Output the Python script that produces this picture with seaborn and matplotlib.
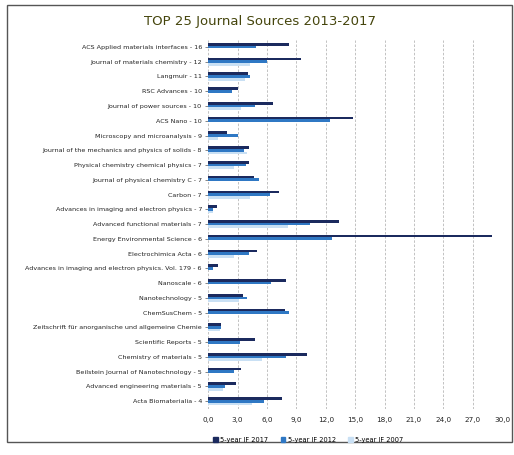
import numpy as np
import pandas as pd
import matplotlib
matplotlib.use('Agg')
import matplotlib.pyplot as plt
from matplotlib.patches import Rectangle
from matplotlib.ticker import FuncFormatter, MultipleLocator
import seaborn as sns

# 期刊及5年影响因子
journals = [
    'ACS Applied materials interfaces - 16',
    'Journal of materials chemistry - 12',
    'Langmuir - 11',
    'RSC Advances - 10',
    'Journal of power sources - 10',
    'ACS Nano - 10',
    'Microscopy and microanalysis - 9',
    'Journal of the mechanics and physics of solids - 8',
    'Physical chemistry chemical physics - 7',
    'Journal of physical chemistry C - 7',
    'Carbon - 7',
    'Advances in imaging and electron physics - 7',
    'Advanced functional materials - 7',
    'Energy Environmental Science - 6',
    'Electrochimica Acta - 6',
    'Advances in imaging and electron physics. Vol. 179 - 6',
    'Nanoscale - 6',
    'Nanotechnology - 5',
    'ChemSusChem - 5',
    'Zeitschrift für anorganische und allgemeine Chemie',
    'Scientific Reports - 5',
    'Chemistry of materials - 5',
    'Beilstein Journal of Nanotechnology - 5',
    'Advanced engineering materials - 5',
    'Acta Biomaterialia - 4',
]
if_2017 = [8.2, 9.5, 4.1, 3.0, 6.6, 14.8, 1.9, 4.2, 4.2, 4.7, 7.2, 0.9, 13.3,
           29.0, 5.0, 1.0, 7.9, 3.6, 7.8, 1.3, 4.8, 10.1, 3.4, 2.8, 7.5]
if_2012 = [4.9, 6.0, 4.3, 2.4, 4.8, 12.4, 3.0, 3.7, 3.9, 5.2, 6.3, 0.5, 10.4,
           12.6, 4.2, 0.5, 6.4, 4.0, 8.2, 1.3, 3.2, 7.9, 2.6, 1.7, 5.7]
if_2007 = [0.0, 4.3, 3.8, 0.0, 3.3, 0.0, 1.0, 4.0, 2.6, 0.0, 4.3, 0.5, 8.1,
           0.0, 2.6, 0.0, 0.0, 3.1, 0.0, 1.2, 0.0, 5.5, 0.0, 1.5, 4.5]
series = ['5-year IF 2017', '5-year IF 2012', '5-year IF 2007']
colors = ['#1b2a5e', '#2f78c4', '#c9e0f4']

df = pd.DataFrame({
    'journal': journals * 3,
    'value': if_2017 + if_2012 + if_2007,
    'series': np.repeat(series, len(journals)),
})

fig = plt.figure(figsize=(5.14, 4.55), dpi=100)
ax = fig.add_axes([0.405, 0.102, 0.572, 0.811])

sns.barplot(data=df, y='journal', x='value', hue='series', hue_order=series,
            palette=colors, orient='h', width=0.55, dodge=True, ax=ax,
            saturation=1, errorbar=None, legend=False)

ax.set_xlim(0, 30)
ax.xaxis.set_major_locator(MultipleLocator(3))
ax.xaxis.set_major_formatter(FuncFormatter(lambda v, p: f'{v:.1f}'.replace('.', ',')))
ax.grid(axis='x', color='#b8b8b8', linestyle=(0, (3, 2)), linewidth=0.6)
ax.set_axisbelow(True)
for s in ax.spines.values():
    s.set_visible(False)
ax.set_xlabel('')
ax.set_ylabel('')
ax.tick_params(axis='y', length=2.5, width=0.5, color='#555555', pad=2, labelsize=4.6)
ax.tick_params(axis='x', length=0, pad=6, labelsize=5.2)
for t in ax.get_yticklabels() + ax.get_xticklabels():
    t.set_color('#222222')

# 图例
handles = [Rectangle((0, 0), 1, 1, color=c) for c in colors]
fig.legend(handles, series, loc='center', bbox_to_anchor=(0.6, 0.033), ncol=3,
           frameon=False, fontsize=4.8, handlelength=0.7, handleheight=0.7,
           handletextpad=0.4, columnspacing=1.8)

fig.text(0.506, 0.952, 'TOP 25 Journal Sources 2013-2017', ha='center', va='center',
         fontsize=9.5, color='#45450c')

# 外框
fig.patches.append(Rectangle((0.0136, 0.028), 0.982, 0.961, transform=fig.transFigure,
                             fill=False, edgecolor='#555555', linewidth=1))

fig.savefig('out.png', dpi=100)
